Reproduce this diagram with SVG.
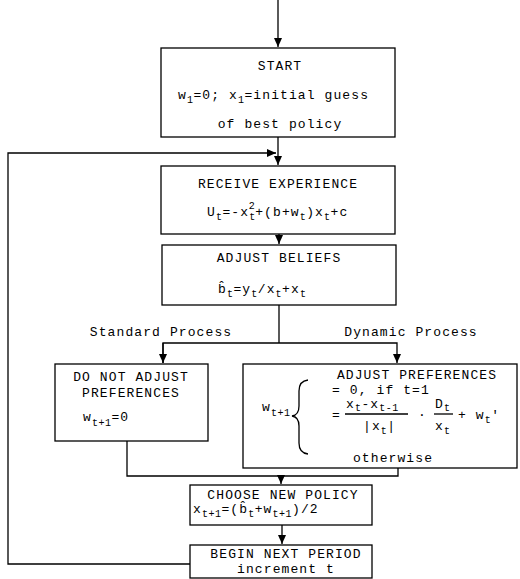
<svg xmlns="http://www.w3.org/2000/svg" width="520" height="579" viewBox="0 0 520 579">
<defs>
<marker id="ah" markerWidth="10" markerHeight="10" refX="9" refY="5" orient="auto" markerUnits="userSpaceOnUse">
<path d="M0,1 L9,5 L0,9 Z" fill="#000"/>
</marker>
<style>
.box{fill:#fff;stroke:#000;stroke-width:1.3}
.ln{fill:none;stroke:#000;stroke-width:1.3}
text{font-family:"Liberation Mono","DejaVu Sans Mono",monospace;font-size:13px;fill:#000;letter-spacing:1.1px}
.c{text-anchor:middle}
.s{font-size:10px;letter-spacing:0.5px}
</style>
</defs>
<rect width="520" height="579" fill="#fff"/>
<g id="connectors">
<line class="ln" x1="278" y1="0" x2="278" y2="47" marker-end="url(#ah)"/>
<line class="ln" x1="278" y1="137" x2="278" y2="165" marker-end="url(#ah)"/>
<polyline class="ln" points="190,564 8,564 8,153 276,153" marker-end="url(#ah)"/>
<line class="ln" x1="279" y1="234" x2="279" y2="244" marker-end="url(#ah)"/>
<line class="ln" x1="279" y1="305" x2="279" y2="343"/>
<polyline class="ln" points="163,363 163,343 397,343 397,363" marker-end="url(#ah)"/>
<line class="ln" x1="163" y1="343" x2="163" y2="363" marker-end="url(#ah)"/>
<polyline class="ln" points="127,441 127,476 398,476 398,468"/>
<line class="ln" x1="281" y1="476" x2="281" y2="484" marker-end="url(#ah)"/>
<line class="ln" x1="282" y1="525" x2="282" y2="544" marker-end="url(#ah)"/>
<text x="161" y="336" class="c">Standard Process</text>
<text x="411" y="336" class="c">Dynamic Process</text>
</g>
<g id="start">
<rect class="box" x="161" y="48" width="234" height="89"/>
<text x="280" y="70" class="c">START</text>
<text x="178" y="99">w<tspan class="s" dy="4">1</tspan><tspan dy="-4">=0; x</tspan><tspan class="s" dy="4">1</tspan><tspan dy="-4">=initial guess</tspan></text>
<text x="280" y="128" class="c">of best policy</text>
</g>
<g id="receive">
<rect class="box" x="161" y="166" width="234" height="68"/>
<text x="278" y="188" class="c">RECEIVE EXPERIENCE</text>
<text x="207" y="216">U<tspan class="s" dy="4">t</tspan><tspan dy="-4">=-x</tspan><tspan class="s" dy="4">t</tspan><tspan class="s" dx="-7" dy="-11">2</tspan><tspan dy="7">+(b+w</tspan><tspan class="s" dy="4">t</tspan><tspan dy="-4">)x</tspan><tspan class="s" dy="4">t</tspan><tspan dy="-4">+c</tspan></text>
</g>
<g id="beliefs">
<rect class="box" x="162" y="245" width="234" height="60"/>
<text x="279" y="262" class="c">ADJUST BELIEFS</text>
<text x="218" y="293">b̂<tspan class="s" dy="4">t</tspan><tspan dy="-4">=y</tspan><tspan class="s" dy="4">t</tspan><tspan dy="-4">/x</tspan><tspan class="s" dy="4">t</tspan><tspan dy="-4">+x</tspan><tspan class="s" dy="4">t</tspan></text>
</g>
<g id="noadjust">
<rect class="box" x="55" y="364" width="153" height="77"/>
<text x="131" y="381" class="c">DO NOT ADJUST</text>
<text x="131" y="397" class="c">PREFERENCES</text>
<text x="83" y="421">w<tspan class="s" dy="5">t+1</tspan><tspan dy="-5">=0</tspan></text>
</g>
<g id="adjust">
<rect class="box" x="243" y="364" width="274" height="104"/>
<text x="417" y="379" class="c">ADJUST PREFERENCES</text>
<text x="262" y="411">w<tspan class="s" dy="5">t+1</tspan></text>
<path class="ln" d="M308,380 Q299,381 299,391 L299,406 Q299,415 292,416 Q299,417 299,426 L299,443 Q299,453 308,454"/>
<text x="332" y="394">= 0, if t=1</text>
<text x="332" y="419">=</text>
<text x="346" y="408">x<tspan class="s" dy="3">t</tspan><tspan dy="-3">-x</tspan><tspan class="s" dy="3">t-1</tspan></text>
<line class="ln" x1="345" y1="414" x2="408" y2="414"/>
<text x="363" y="430">|x<tspan class="s" dy="4">t</tspan><tspan dy="-4">|</tspan></text>
<text x="418" y="419">·</text>
<text x="435" y="408">D<tspan class="s" dy="3">t</tspan></text>
<line class="ln" x1="434" y1="414" x2="453" y2="414"/>
<text x="435" y="430">x<tspan class="s" dy="4">t</tspan></text>
<text x="458" y="419">+ w<tspan class="s" dy="4">t</tspan><tspan dy="-4">'</tspan></text>
<text x="393" y="462" class="c">otherwise</text>
</g>
<g id="choose">
<rect class="box" x="190" y="485" width="182" height="40"/>
<text x="283" y="499" class="c">CHOOSE NEW POLICY</text>
<text x="193" y="513">x<tspan class="s" dy="4">t+1</tspan><tspan dy="-4">=(b̂</tspan><tspan class="s" dy="4">t</tspan><tspan dy="-4">+w</tspan><tspan class="s" dy="4">t+1</tspan><tspan dy="-4">)/2</tspan></text>
</g>
<g id="next">
<rect class="box" x="190" y="545" width="182" height="33"/>
<text x="286" y="558" class="c">BEGIN NEXT PERIOD</text>
<text x="286" y="573" class="c">increment t</text>
</g>
</svg>
